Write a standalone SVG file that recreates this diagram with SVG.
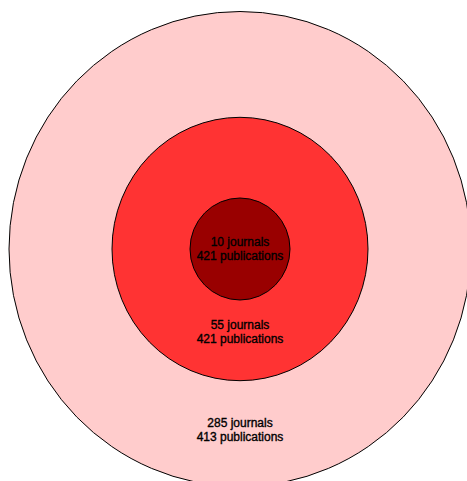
<svg xmlns="http://www.w3.org/2000/svg" width="467" height="481" viewBox="0 0 467 481">
  <style>
    .ring { stroke: #000000; stroke-width: 1; }
    .lbl { font-family: "Liberation Sans", Arial, sans-serif; font-size: 12px; fill: #000000; stroke: #000000; stroke-width: 0.35; text-anchor: middle; }
  </style>
  <rect width="467" height="481" fill="#ffffff"/>
  <g id="outer">
    <ellipse class="ring" cx="240" cy="249" rx="231" ry="237.5" fill="#FFCCCC"/>
    <text class="lbl" x="240" y="427">285 journals</text>
    <text class="lbl" x="240" y="441">413 publications</text>
  </g>
  <g id="middle">
    <ellipse class="ring" cx="240" cy="249" rx="128" ry="131.7" fill="#FF3333"/>
    <text class="lbl" x="240" y="328.5">55 journals</text>
    <text class="lbl" x="240" y="342.5">421 publications</text>
  </g>
  <g id="inner">
    <ellipse class="ring" cx="240" cy="249" rx="50" ry="51" fill="#990000"/>
    <text class="lbl" x="240" y="245.5">10 journals</text>
    <text class="lbl" x="240" y="259.5">421 publications</text>
  </g>
  <g id="connectors"/>
</svg>
